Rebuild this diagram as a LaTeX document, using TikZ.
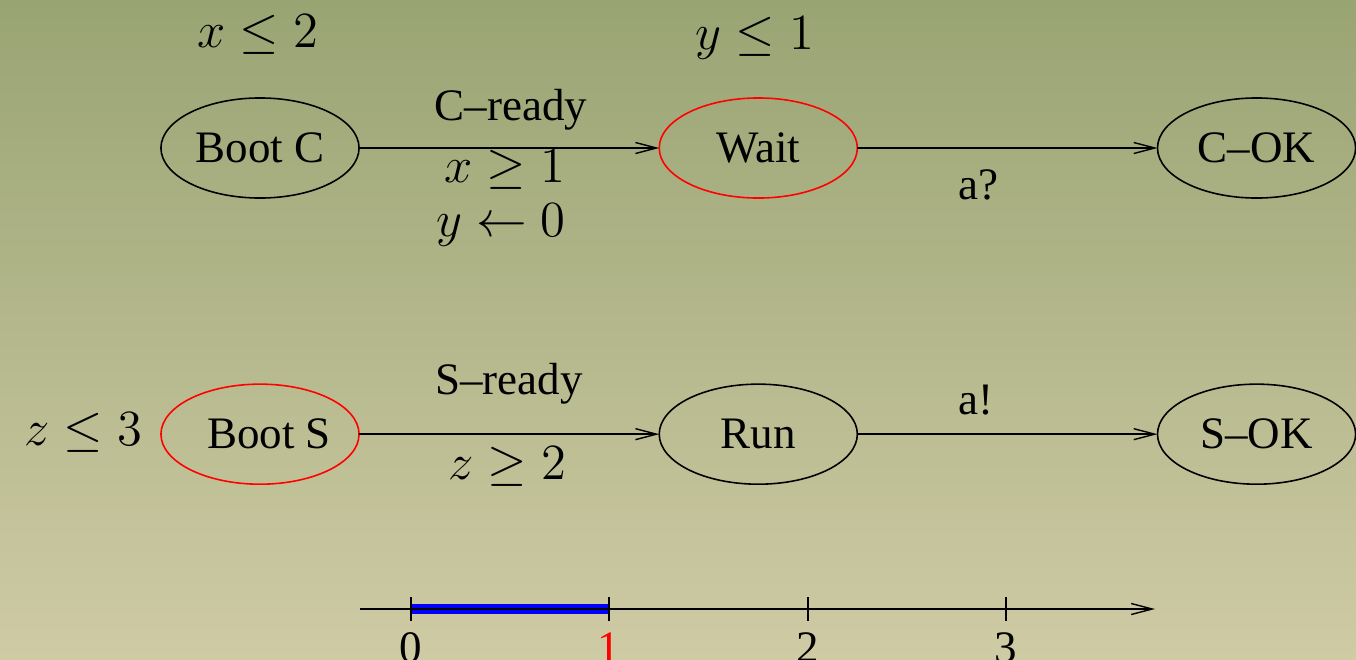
\documentclass[tikz,border=0pt]{standalone}
\usepackage{fontspec}
\setmainfont{Liberation Serif}
\usepackage{xcolor}
\usetikzlibrary{positioning,arrows.meta,shapes.geometric}
\definecolor{bgtop}{HTML}{99A473}
\definecolor{bgbottom}{HTML}{CFCBA5}
\definecolor{intervalblue}{HTML}{0000FF}

\begin{document}
\begin{tikzpicture}[
  x=0.01cm, y=-0.01cm,
  loc/.style={draw=black, ellipse, line width=0.45pt, minimum width=1.98cm, minimum height=1cm, inner sep=0pt, outer sep=0pt, font=\fontsize{12.8}{15}\selectfont},
  active/.style={loc, draw=red},
  guard/.style={font=\fontsize{15.8}{18}\selectfont, inner sep=0pt},
  act/.style={font=\fontsize{12.8}{15}\selectfont, inner sep=0pt},
  arr/.style={-{Straight Barb[length=2.1mm, width=1.1mm, line width=0.4pt]}, line width=0.4pt}
]
  % Background
  \shade[top color=bgtop, bottom color=bgbottom] (0,0) rectangle (1356,660);
  \useasboundingbox (0,0) rectangle (1356,660);

  % Client automaton
  \node[loc] (bootc) at (260,148) {Boot C};
  \node[active, right=3cm of bootc] (wait) {Wait};
  \node[loc, right=3cm of wait] (cok) {C--OK};

  % Server automaton
  \node[active, below=1.86cm of bootc] (boots) {\makebox[0pt]{\hspace{0.18cm}Boot S}};
  \node[loc, right=3cm of boots] (run) {Run};
  \node[loc, right=3cm of run] (sok) {S--OK};

  % Transitions
  \draw[arr] (bootc) -- (wait);
  \draw[arr] (wait) -- (cok);
  \draw[arr] (boots) -- (run);
  \draw[arr] (run) -- (sok);

  % Invariants
  \node[guard] (invx) at (258,35) {$x \leq 2$};
  \node[guard] (invy) at (755,38) {$y \leq 1$};
  \node[guard] (invz) at (83,433) {$z \leq 3$};

  % Labels of the client
  \node[act] (cready) at (511,110) {C--ready};
  \node[guard] (gx) at (505,170) {$x \geq 1$};
  \node[guard] (ry) at (501,225) {$y \leftarrow 0$};
  \node[act] (recv) at (978,185) {a?};

  % Labels of the server
  \node[act] (sready) at (509,384) {S--ready};
  \node[guard] (gz) at (507,467) {$z \geq 2$};
  \node[act] (send) at (976,400) {a!};

  % Time line
  \fill[intervalblue] (411,604) rectangle (609,614);
  \coordinate (tstart) at (360,609);
  \coordinate (tend) at (1155,609);
  \draw[arr] (tstart) -- (tend);
  \foreach \i/\xx/\col in {0/411/black, 1/609/red, 2/808/black, 3/1006/black}{
    \draw[line width=0.4pt] (\xx,597) -- (\xx,621);
    \node[act, text=\col] (tick\i) at (\xx,648) {\i};
  }
\end{tikzpicture}
\end{document}
